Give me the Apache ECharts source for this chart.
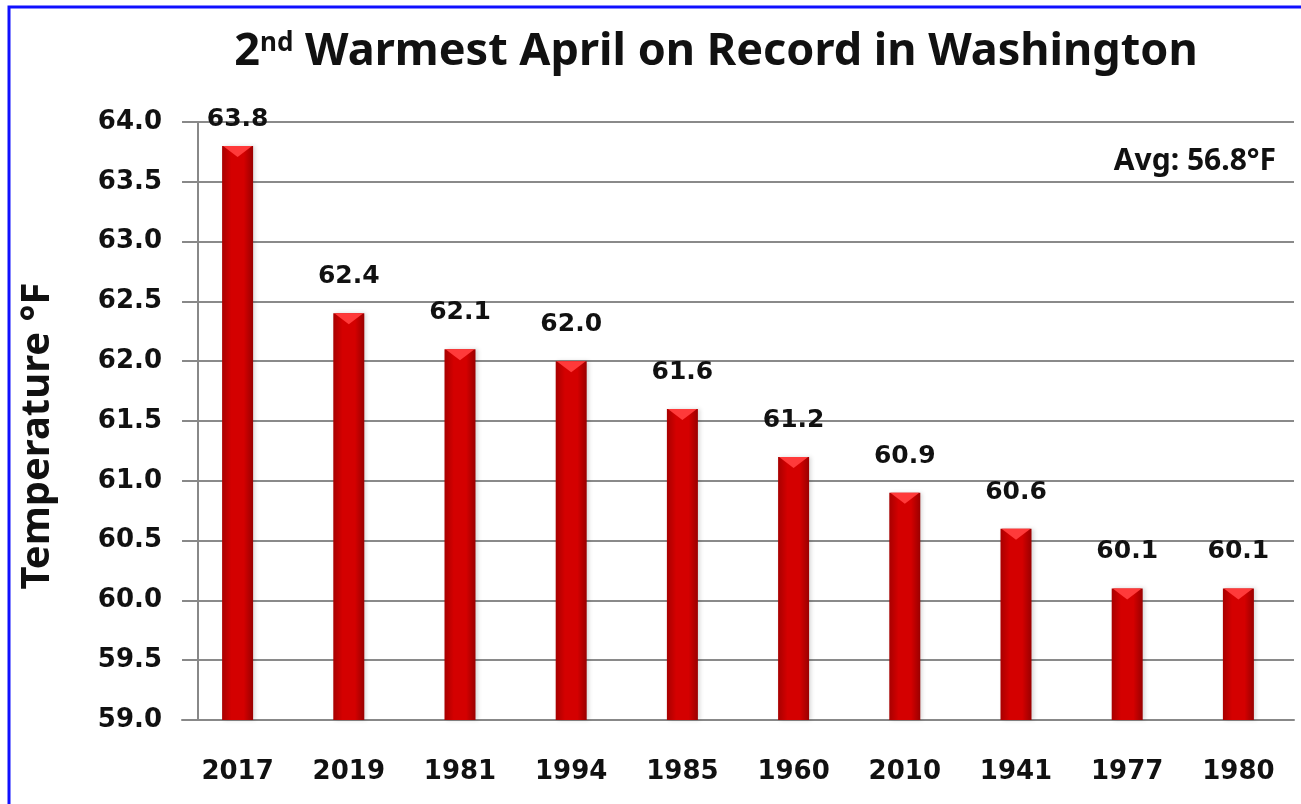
<!DOCTYPE html>
<html>
<head>
<meta charset="utf-8">
<script src="https://cdn.jsdelivr.net/npm/echarts@6/dist/echarts.min.js"></script>
<style>
  html, body { margin: 0; padding: 0; background: #fff; }
  #chart { width: 1301px; height: 804px; }
</style>
</head>
<body>
<div id="chart"></div>
<script>
// warmest Aprils, ranked
var years = ['2017', '2019', '1981', '1994', '1985', '1960', '2010', '1941', '1977', '1980'];
var temps = [63.8, 62.4, 62.1, 62.0, 61.6, 61.2, 60.9, 60.6, 60.1, 60.1];
var labelGaps = [14, 24, 24, 24, 24, 24, 24, 24, 24, 24];
var avgText = 'Avg: 56.8°F';

var myChart = echarts.init(document.getElementById('chart'));

var barData = temps.map(function (v, i) {
  return { value: v, label: { distance: labelGaps[i] } };
});

var option = {
  animation: false,
  backgroundColor: '#fff',
  title: [{
    left: 711,
    top: 20,
    textAlign: 'center',
    text: '{a|2}{b|nd}{a| Warmest April on Record in Washington}',
    textStyle: {
      rich: {
        a: { fontFamily: 'Noto Sans', fontWeight: 'bold', fontSize: 45, color: '#111', lineHeight: 54 },
        b: { fontFamily: 'Noto Sans', fontWeight: 'bold', fontSize: 26, color: '#111', lineHeight: 54, verticalAlign: 'top', padding: [6, 0, 0, 0] }
      }
    }
  }, {
    right: 20,
    top: 141,
    text: avgText,
    textStyle: { fontFamily: 'Noto Sans', fontWeight: 'bold', fontSize: 30, color: '#111' }
  }],
  graphic: [{
    type: 'rect',
    shape: { x: 9, y: 7, width: 1400, height: 900 },
    style: { fill: 'none', stroke: '#1010ff', lineWidth: 3 },
    z: 100
  }],
  grid: { left: 182, right: 7, top: 122, bottom: 84 },
  xAxis: {
    type: 'category',
    data: years,
    axisLine: { lineStyle: { color: '#888', width: 2 } },
    axisTick: { interval: 1, length: 13, lineStyle: { color: '#888', width: 2 } },
    axisLabel: {
      margin: 39,
      fontFamily: 'DejaVu Sans',
      fontWeight: 'bold',
      fontSize: 26,
      color: '#111'
    }
  },
  yAxis: {
    type: 'value',
    min: 59,
    max: 64,
    interval: 0.5,
    offset: -16,
    name: 'Temperature °F',
    nameLocation: 'middle',
    nameGap: 140,
    nameTextStyle: {
      fontFamily: 'Noto Sans', fontWeight: 'bold', fontSize: 40, color: '#111',
      padding: [0, 30, 0, 0]
    },
    axisLine: { show: true, lineStyle: { color: '#888', width: 2 } },
    axisTick: { show: true, length: 15, lineStyle: { color: '#888', width: 2 } },
    axisLabel: {
      margin: 36,
      fontFamily: 'DejaVu Sans',
      fontWeight: 'bold',
      fontSize: 26,
      color: '#111',
      formatter: function (v) { return v.toFixed(1); }
    },
    splitLine: { lineStyle: { color: '#8a8a8a', width: 2 } }
  },
  series: [{
    name: 'April temperature',
    type: 'bar',
    data: barData,
    barWidth: 31,
    barGap: '-100%',
    itemStyle: {
      color: new echarts.graphic.LinearGradient(0, 0, 1, 0, [
        { offset: 0, color: '#a80000' },
        { offset: 0.3, color: '#d40000' },
        { offset: 0.7, color: '#d40000' },
        { offset: 1, color: '#9a0000' }
      ]),
      shadowColor: 'rgba(0,0,0,0.15)',
      shadowBlur: 4,
      shadowOffsetX: 2
    },
    label: {
      show: true,
      position: 'top',
      fontFamily: 'DejaVu Sans',
      fontWeight: 'bold',
      fontSize: 25,
      color: '#111',
      formatter: function (p) { return p.value.toFixed(1); }
    }
  }, {
    name: 'cap',
    type: 'pictorialBar',
    data: temps,
    barWidth: 31,
    barGap: '-100%',
    symbol: 'path://M0,0 L30,0 L15,10 Z',
    symbolSize: [29, 11],
    symbolPosition: 'end',
    symbolOffset: [0, 0],
    itemStyle: { color: '#ff3a3a' },
    z: 3,
    silent: true
  }]
};

myChart.setOption(option);
</script>
</body>
</html>
